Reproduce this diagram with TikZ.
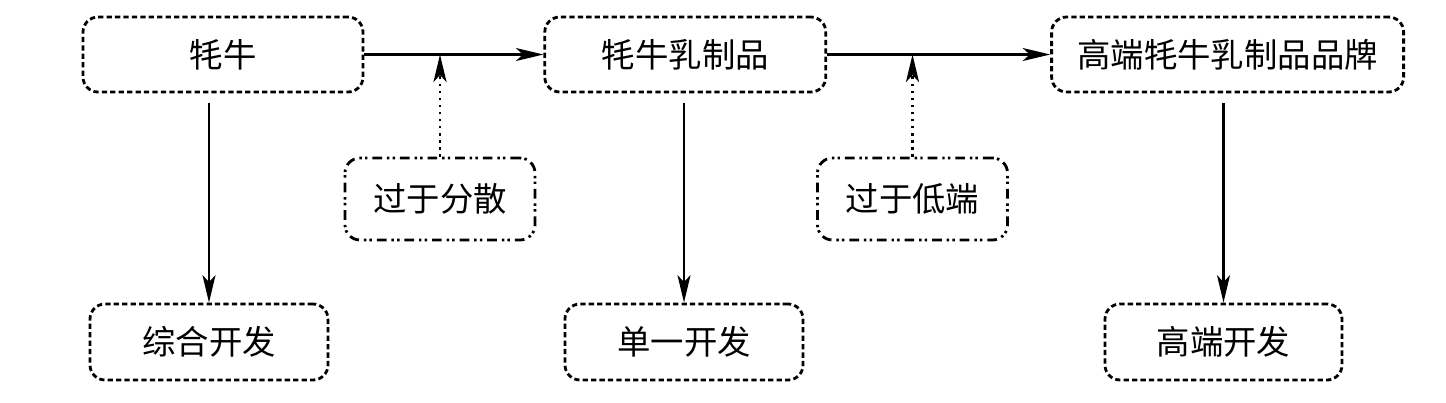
\documentclass[tikz,border=0pt]{standalone}
\usepackage{fontspec}
\usepackage{tikz}
\usetikzlibrary{arrows.meta,positioning}
\newfontfamily\cjk{Noto Sans CJK SC}

\begin{document}
\begin{tikzpicture}[
    node distance=5mm and 5mm,
    box/.style={draw,line width=1.6pt,dash pattern=on 3pt off 1.8pt,
      rounded corners=3mm,minimum height=1.5cm,align=center,
      font=\cjk\fontsize{19}{23}\selectfont},
    cause/.style={box,minimum height=1.64cm,minimum width=3.8cm,
      dash pattern=on 5.5pt off 2.8pt on 1.4pt off 1.8pt on 1.4pt off 2.8pt},
    arr/.style={-{Stealth[length=5.5mm,width=2.6mm,inset=1.4mm]},line width=1.2pt},
    dotarr/.style={arr,line width=1.6pt,dash pattern=on 1.6pt off 2.4pt}
  ]
    \useasboundingbox (0,0) rectangle (28.92,-8.04);
    \node[box,minimum width=5.6cm] at (4.46,-1.09) (yak) {牦牛};
    \node[box,minimum width=5.62cm,right=3.58cm of yak] (dairy) {牦牛乳制品};
    \node[box,minimum width=7.04cm,right=4.46cm of dairy] (brand) {高端牦牛乳制品品牌};
    \node[cause] at (8.8,-3.98) (scatter) {过于分散};
    \node[cause] at (18.25,-3.98) (lowend) {过于低端};
    \node[box,minimum width=4.76cm,minimum height=1.52cm] at (4.18,-6.84) (mixdev) {综合开发};
    \node[box,minimum width=4.76cm,minimum height=1.52cm] at (13.68,-6.84) (singledev) {单一开发};
    \node[box,minimum width=4.74cm,minimum height=1.52cm] at (24.47,-6.84) (highdev) {高端开发};
    \draw[arr] (yak)--(dairy);
    \draw[arr] (dairy)--(brand);
    \draw[dotarr] (scatter.north)--(scatter.north |- yak.east);
    \draw[dotarr] (lowend.north)--(lowend.north |- dairy.east);
    \draw[arr,shorten <=2mm] (mixdev.north |- yak.south)--(mixdev.north);
    \draw[arr,shorten <=2mm] (singledev.north |- dairy.south)--(singledev.north);
    \draw[arr,shorten <=2mm] (highdev.north |- brand.south)--(highdev.north);
  \end{tikzpicture}
\end{document}
